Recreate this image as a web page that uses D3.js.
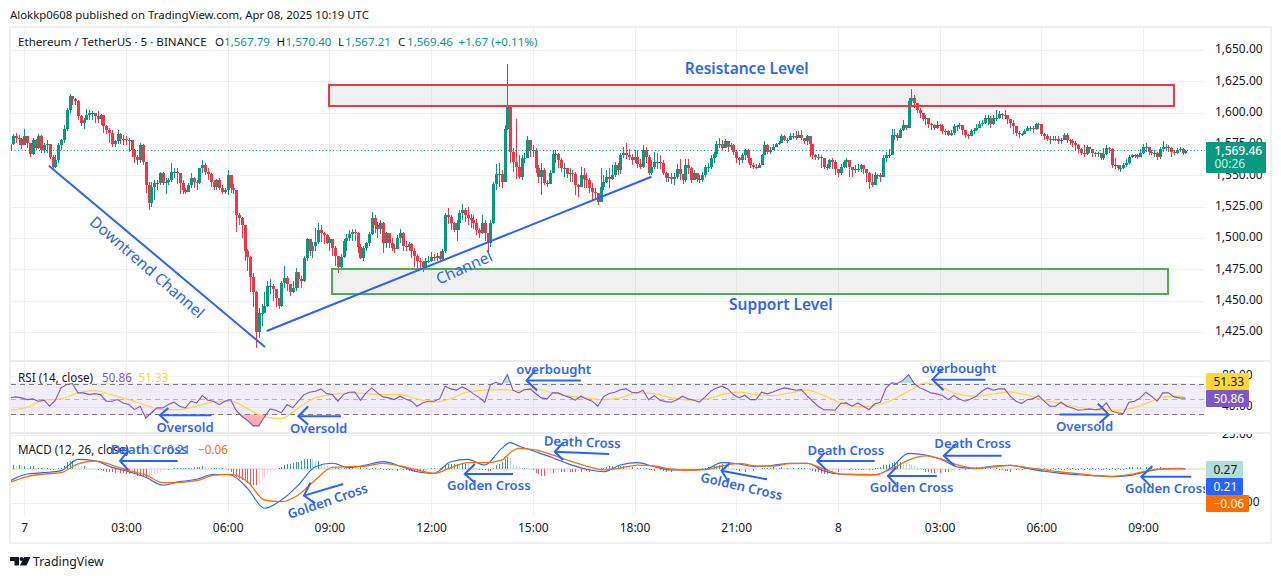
<!DOCTYPE html>
<html><head><meta charset="utf-8">
<script src="https://cdn.jsdelivr.net/npm/d3@7/dist/d3.min.js"></script>
<style>html,body{margin:0;padding:0;background:#fff}svg{display:block}text{font-family:"Noto Sans",sans-serif}</style>
</head><body><svg id="c" width="1281" height="579"></svg>
<script>
// Candles start 5 bars before midnight; opens are the preceding close.
const firstBar = -5;
const firstOpen = 1570;
const closes = [
1575,1581,1580,1579,1574,1581,1576,1567,1578,1572,
1581,1570,1574,1575,1565,1557,1562,1574,1578,1587,
1602,1613,1611,1609,1597,1592,1594,1598,1600,1600,
1597,1595,1598,1589,1586,1584,1575,1577,1583,1579,
1579,1578,1578,1570,1565,1562,1574,1561,1542,1528,
1541,1544,1544,1552,1544,1545,1546,1553,1553,1552,
1544,1538,1537,1542,1548,1545,1544,1556,1558,1553,
1551,1545,1541,1546,1540,1537,1538,1550,1540,1538,
1518,1516,1510,1490,1485,1469,1457,1425,1440,1440,
1446,1462,1462,1459,1452,1446,1464,1468,1463,1457,
1460,1473,1467,1466,1484,1499,1490,1494,1497,1506,
1504,1502,1496,1499,1492,1486,1477,1485,1498,1500,
1503,1505,1504,1493,1484,1492,1496,1503,1516,1510,
1507,1512,1496,1504,1496,1492,1491,1500,1504,1494,
1493,1495,1490,1486,1482,1481,1477,1482,1482,1485,
1484,1486,1483,1490,1518,1517,1512,1506,1512,1520,
1522,1518,1516,1514,1512,1506,1504,1512,1504,1496,
1512,1543,1551,1551,1545,1587,1605,1569,1561,1557,
1549,1564,1564,1578,1570,1570,1556,1549,1554,1544,
1543,1552,1567,1567,1562,1556,1556,1551,1552,1551,
1542,1541,1550,1547,1546,1540,1537,1536,1529,1541,
1545,1549,1547,1550,1558,1554,1566,1568,1566,1565,
1562,1565,1559,1557,1570,1565,1552,1557,1561,1561,
1560,1552,1548,1549,1547,1549,1555,1551,1546,1558,
1556,1546,1552,1547,1546,1550,1557,1557,1564,1567,
1575,1575,1572,1577,1573,1574,1569,1564,1562,1566,
1570,1564,1558,1557,1556,1558,1566,1574,1569,1570,
1573,1575,1576,1581,1578,1578,1581,1581,1580,1582,
1580,1577,1581,1575,1566,1565,1565,1564,1557,1557,
1562,1561,1555,1552,1557,1561,1562,1557,1554,1555,
1555,1558,1555,1552,1545,1542,1550,1550,1549,1564,
1566,1566,1582,1582,1580,1586,1590,1588,1609,1612,
1608,1602,1600,1595,1596,1591,1590,1588,1590,1589,
1585,1585,1582,1584,1589,1589,1590,1586,1582,1581,
1585,1586,1588,1591,1592,1596,1596,1591,1596,1596,
1599,1598,1598,1595,1592,1589,1584,1583,1583,1585,
1588,1588,1587,1591,1591,1583,1581,1579,1579,1579,
1579,1577,1578,1582,1578,1577,1576,1574,1571,1568,
1567,1573,1571,1568,1567,1568,1564,1567,1572,1571,
1558,1558,1556,1556,1558,1560,1565,1566,1566,1565,
1568,1573,1573,1569,1568,1568,1565,1571,1573,1573,
1572,1569,1568,1570,1571,1567.79,1569.46];
const highs = [
1577,1583,1584,1582,1580,1587,1581,1576,1580,1579,
1583,1582,1576,1578,1575,1566,1566,1576,1579,1590,
1604,1615,1613,1612,1610,1598,1596,1603,1602,1601,
1599,1601,1599,1598,1590,1588,1586,1578,1586,1584,
1582,1581,1580,1578,1571,1566,1576,1575,1560,1545,
1545,1546,1546,1553,1553,1548,1548,1560,1556,1556,
1550,1546,1540,1544,1552,1549,1546,1556,1562,1560,
1556,1552,1546,1547,1548,1542,1540,1554,1550,1543,
1538,1520,1517,1510,1491,1486,1472,1458,1444,1447,
1457,1466,1467,1463,1456,1448,1466,1478,1470,1462,
1466,1476,1472,1470,1486,1500,1499,1497,1508,1512,
1510,1505,1503,1501,1499,1494,1485,1487,1499,1503,
1506,1507,1507,1505,1495,1494,1497,1505,1521,1518,
1513,1514,1513,1505,1504,1500,1495,1502,1507,1505,
1498,1497,1496,1492,1487,1484,1482,1484,1486,1489,
1487,1488,1490,1491,1520,1524,1518,1513,1514,1522,
1527,1524,1525,1519,1518,1515,1508,1518,1514,1500,
1514,1545,1559,1560,1554,1590,1639,1606,1572,1595,
1566,1566,1568,1581,1578,1574,1572,1558,1560,1556,
1546,1554,1570,1570,1568,1564,1560,1555,1556,1554,
1553,1543,1557,1556,1552,1548,1544,1540,1533,1556,
1550,1554,1556,1558,1561,1560,1568,1573,1576,1571,
1567,1570,1570,1563,1574,1573,1566,1562,1569,1568,
1566,1562,1553,1552,1552,1552,1559,1563,1551,1563,
1563,1557,1554,1552,1550,1553,1558,1560,1566,1569,
1577,1580,1578,1579,1575,1576,1575,1570,1565,1568,
1571,1571,1561,1560,1559,1560,1567,1577,1575,1573,
1575,1576,1577,1583,1582,1580,1584,1584,1585,1585,
1586,1580,1582,1581,1575,1567,1567,1566,1564,1559,
1563,1564,1562,1555,1559,1562,1564,1562,1557,1558,
1559,1559,1558,1554,1553,1551,1553,1551,1552,1566,
1569,1571,1587,1587,1584,1588,1594,1590,1612,1619,
1614,1608,1604,1600,1598,1593,1592,1591,1593,1591,
1591,1587,1586,1586,1591,1590,1592,1590,1585,1583,
1587,1588,1591,1593,1594,1598,1598,1597,1598,1602,
1601,1600,1602,1598,1595,1594,1587,1585,1584,1587,
1589,1589,1589,1592,1592,1591,1584,1583,1581,1581,
1581,1581,1580,1584,1584,1579,1579,1577,1575,1572,
1574,1574,1573,1571,1569,1569,1568,1572,1574,1573,
1572,1564,1558,1558,1560,1563,1566,1567,1567,1567,
1571,1575,1576,1573,1570,1570,1569,1573,1577,1575,
1574,1573,1570,1572,1573,1572,1570.4];
const lows = [
1565,1574,1576,1574,1571,1574,1572,1565,1566,1570,
1571,1568,1568,1568,1563,1555,1556,1560,1570,1576,
1585,1600,1606,1606,1594,1589,1587,1594,1594,1594,
1592,1592,1590,1584,1583,1576,1573,1573,1575,1575,
1574,1574,1569,1565,1560,1558,1560,1558,1536,1522,
1525,1530,1538,1542,1542,1535,1542,1545,1548,1543,
1535,1535,1535,1537,1540,1540,1538,1543,1552,1550,
1546,1541,1538,1538,1538,1535,1535,1534,1536,1535,
1505,1510,1500,1482,1474,1457,1445,1412,1420,1430,
1443,1445,1455,1450,1445,1443,1445,1460,1458,1454,
1456,1458,1460,1460,1465,1482,1486,1484,1490,1495,
1497,1495,1495,1490,1486,1478,1472,1475,1484,1490,
1498,1498,1498,1488,1483,1482,1490,1494,1502,1504,
1500,1503,1488,1492,1492,1490,1488,1492,1496,1490,
1490,1490,1484,1477,1475,1476,1473,1476,1480,1481,
1482,1482,1481,1482,1488,1511,1506,1505,1498,1506,
1514,1513,1510,1508,1507,1502,1500,1503,1498,1489,
1493,1511,1538,1541,1540,1545,1586,1560,1553,1547,
1547,1546,1560,1564,1565,1565,1552,1544,1534,1542,
1541,1543,1552,1560,1556,1553,1549,1548,1545,1545,
1534,1533,1542,1540,1540,1536,1530,1532,1526,1533,
1538,1544,1540,1546,1549,1550,1551,1564,1563,1562,
1558,1560,1556,1555,1556,1560,1550,1550,1555,1555,
1555,1550,1545,1545,1543,1542,1547,1546,1543,1545,
1551,1544,1546,1545,1544,1545,1549,1553,1555,1560,
1565,1572,1570,1572,1569,1570,1566,1560,1558,1560,
1562,1560,1556,1555,1555,1556,1558,1566,1567,1567,
1570,1573,1574,1576,1577,1576,1578,1579,1578,1580,
1578,1575,1574,1565,1563,1562,1562,1556,1555,1554,
1555,1555,1550,1549,1550,1556,1556,1549,1549,1552,
1553,1553,1551,1545,1539,1541,1542,1547,1545,1549,
1561,1564,1566,1578,1577,1580,1585,1586,1588,1605,
1604,1600,1596,1593,1590,1588,1586,1586,1587,1585,
1583,1582,1581,1581,1582,1585,1587,1582,1580,1579,
1581,1583,1585,1588,1589,1591,1590,1588,1590,1593,
1595,1595,1595,1591,1588,1583,1581,1580,1581,1583,
1585,1585,1584,1586,1587,1581,1578,1577,1575,1577,
1577,1575,1575,1578,1576,1574,1573,1570,1568,1566,
1565,1566,1568,1565,1565,1565,1562,1562,1566,1568,
1556,1555,1554,1553,1555,1557,1559,1564,1564,1563,
1565,1567,1569,1566,1566,1565,1562,1563,1569,1570,
1569,1565,1566,1567,1569,1566,1567.21];
// RSI readings, one for every second bar from firstBar
const rsiValues = [
51.3,52.6,51.3,49.1,50,47,48.3,40.5,48.3,64.3,
68.6,69.9,57.8,57.8,55.6,56.9,55.6,47,47,49.1,
44.8,42.6,36.1,40.5,25,32,38.3,38.3,42.6,45.7,
40.5,38.3,47,44.8,54.3,48.3,47,42.6,47,49.1,
35,27.5,22,15,15,26.4,37,35.3,31.8,42.6,
38.3,47,55.6,58.7,60,63,56.9,55.6,47,55.6,
58.7,59,48.3,57.8,64.3,57.8,52.6,51.3,49.1,53.5,
50,47,40.5,44.8,47,47,50,66.5,63,61.4,
65.6,62,56.5,52,45.7,68.6,71.6,68.6,81.6,61.3,
57.8,62,63,57,51.3,50,57.8,57.8,54.3,52,
48.3,53.5,50,47,40.5,52.6,57,58.7,62,63,
58.7,57.8,61.3,49,54.3,48.3,46.5,45.7,49,53.5,
50,48.3,45.7,52.6,60,64.3,66.5,63,55.6,51.3,
54.8,49,49,58.7,56.5,59,62,64.3,63,61.3,
62,54.3,47,40.5,36,36,35.3,44,44.8,40.5,
44.8,40.5,36,43.5,45.7,64,70.8,70,74,81.6,
70,64.3,61.3,57.8,56.5,54.3,49,54.3,50,47,
50,53.5,60,64.3,61.3,63,63,53.5,47,44,
49,50,54.3,47,40.5,40.5,45.7,40.5,38.3,35.3,
36,37,36,37,44.8,34,32,31,45.7,47,
51.3,58.7,53.5,47,57.8,57.8,52.6,51.3,50.86];
// RSI moving average, one reading for every sixth bar, closed by the last bar
const rsiMaValues = [
35.3,39.2,48.3,50,57.8,60.8,55.2,49.1,41.8,36.1,36.1,40.5,46.1,47,37.4,26.6,24.5,38.3,51.3,55.6,
57.8,56.9,55.6,55.6,50,45.7,50.4,59.1,61.3,62.1,60.4,63.4,57.8,53.5,51.3,49.1,51.3,57.8,56.9,51.3,
48.7,49.6,55.6,58.7,55.6,54.3,57.8,61.3,54.3,44.8,39.6,41.3,48.3,60,70.8,64.3,55.6,53.5,56.5,59.1,
54.8,48.3,43.9,39.2,36.1,34.8,37,43.9,52.2,53.5,51.33];
// MACD and signal readings at the bars listed in macdBars
const macdBars = [
-5,1,7,13,19,25,31,37,43,49,55,61,67,73,79,85,91,97,103,109,115,121,127,133,139,
145,151,157,163,169,172,175,181,187,193,199,205,211,217,223,229,235,241,247,253,259,265,271,277,283,289,295,
301,307,313,319,325,331,337,343,349,355,361,367,373,379,385,391,397,403,409,411];
const macdLine = [
-8.6,-3.7,-2.7,-1.2,7.1,6.1,1.2,-2,-6.1,-11.8,-9.3,-7.6,-3.9,-4.4,-14.2,-28.9,-22.8,-11.8,1.7,4.2,1,2.9,5.4,2.2,-2,
-3.2,5.4,7.1,2.9,15.2,19.4,16.9,12.7,8.3,3.4,-.2,-2,2.9,4.7,1.7,-.7,-.7,-.2,4.7,3.7,1.7,2.7,4.2,4.2,-1.5,-3.9,-4.4,
-4.4,1.2,11.5,10.3,6.6,1.2,.5,2.2,2.7,.5,-1.7,-3.2,-4.2,-5.1,-5.6,-4.9,-2,0,.5,.21];
const signalLine = [
-9.8,-5.6,-3.7,-2.7,3.7,5.9,2.9,-1.2,-4.4,-10,-9.8,-8.6,-4.7,-3.9,-9.3,-22.8,-24,-19.1,-8.1,1.2,1.7,2.2,4.2,2.2,-.7,
-3.2,1,4.7,4.7,6.6,12,15.2,14,10.3,5.9,2.2,-.7,.7,2.9,2.2,0,-1,-.5,2.2,4.2,2.2,2.2,3.9,4.2,0,-3.7,-3.9,
-4.2,0,6.6,9.6,7.1,2.7,.5,1.5,2.7,1,-.7,-2.2,-3.4,-4.7,-5.4,-4.2,-1.5,0,.2,-.06];
const histValues = [
2,3,2,3,2,2,1,2,2,1,
1,1,.5,1,-.5,-1,-.5,.5,1,2,
5,6,6,4,3,2,2,1.5,1,.5,
0,-.5,-1,-1.5,-2,-2,-2.5,-3,-2,-3,
-3,-4,-4,-3.5,-4,-5,-5,-5,-6,-5,
-4.5,-4,-3,-2,-1,-.5,-.5,0,.5,.5,
.5,.5,.5,1,1,1.5,1.5,1.5,2,1.5,
1,1,1,1,.5,.5,0,-.5,-2,-4,
-6,-7,-8,-9,-10,-11,-12,-12,-11,-8,
-6,-4,-3,-1.5,-.5,.5,1.5,3,3.5,4,
4.5,5,5.5,6,7,7.5,7.5,7,6,6,
4,3,2,1.5,1,1,1,.5,.5,1,
1,1.5,1,.5,1.5,1,1,-.5,1,1,
.5,.5,-.5,-.5,-1,-1,-.5,-1.5,-1,-1,
-1,-1.5,-1.5,-2,-2.5,-3,-3,-2,-1,1,
1,.5,1,1.5,3,3.5,3.5,4,4,3.5,
3.5,4,3.5,2.5,1.5,.5,-.5,-1,-1,-1.5,
-1.5,1,3,4,5,7,9,8,3,2,
1.5,1,1,.5,0,-.5,-3,-4,-5,-5.5,
-4,-3,-3,-2.5,-2,-2,-2.5,-2,-2,-2,
-2,-1.5,-2,-1.5,-1.5,-2,-1.5,-1,-.5,1,
1,1.5,2,2,1.5,2,2,2.5,2,1.5,
1.5,1,1,1,.5,.5,-1,-1,-1.5,-1,
-1,-1.5,-2,-1.5,-2,-1.5,-1,-.5,-.5,-.5,
-.5,-.5,-.5,-.5,-.5,.5,1,1.5,1,2,
2,3,3.5,3,2,1,.5,-1,-1.5,-1,
-2,-1.5,-1,-1.5,-1,-.5,.5,1,1,1,
1.5,1,1,1.5,1,1,.5,1,.5,.5,
.5,.5,0,-.5,-1.5,-2,-2,-3,-3.5,-4,
-3.5,-3,-2,-2.5,-2,-1.5,-1,-1,-.5,-.5,
-.5,-.5,-1,-.5,-.5,-.5,.5,1,1.5,3,
3,4,4.5,5,5,5.5,5,4.5,4,3,
2,1.5,1,-.5,-2,-2.5,-3,-3,-2.5,-3,
-2,-2,-2.5,-2,-1.5,-1,-1,-.5,-.5,.5,
1,1,1.5,1,1,1.5,1,1,.5,.5,
-.5,-1,-1.5,-1.5,-2,-1,-1,-.5,-.5,.5,
.5,-.5,.5,-.5,.5,-.5,.5,-.5,-.5,.5,
-.5,.5,-.5,-.5,.5,-.5,.5,-.5,-.5,.5,
-.5,.5,-.5,.5,-.5,.5,-.5,-.5,.5,-.5,
.5,-.5,.5,-.5,-.5,1,1.5,1.5,1,1.5,
1.5,1,1.5,1,1,.5,1,1.5,1,.5,
.5,.5,.5,.5,.3,.3,.27];
const priceTicks = [1650,1625,1600,1575,1550,1525,1500,1475,1450,1425];
const rsiTicks = [80,40];
const macdTicks = [25,-25];
const timeTickBars = [0,36,72,108,144,180,216,252,288,324,360,396];
const timeTickLabels = ["7","03:00","06:00","09:00","12:00","15:00","18:00","21:00","8","03:00","06:00","09:00"];
// Drawings: [bar, value] pairs in the units of their pane
const zones = [
 {bars:[107.8,406.8],prices:[1621.7,1604.9],color:"#f23645"},
 {bars:[108.9,404.7],prices:[1474.9,1455.3],color:"#4caf50"}];
const trendLines = [[[8.7,1557.7],[85.2,1413]],[[85.8,1425.8],[222,1548.9]]];
const priceNotes = [
 ["Downtrend Channel",43.6,1477.1,41,400,15.5],["Channel",155.6,1476.9,-24,400,15.5],
 ["Resistance Level",255.7,1635.6,0,600,15.5],["Support Level",267.8,1447.3,0,600,15.5]];
const rsiNotes = [
 ["Oversold",56.9,14],["Oversold",104.2,12.7],["overbought",187.4,89],["overbought",330.8,90.6],["Oversold",375.3,15.3]];
const macdNotes = [
 ["Death Cross",44.2,14.7,0],["Death Cross",197.5,20,2],["Death Cross",290.8,14.3,0],["Death Cross",335.7,19.1,0],
 ["Golden Cross",107.3,-23.3,-19],["Golden Cross",164.4,-11.8,0],["Golden Cross",253.9,-12.5,13],["Golden Cross",314.1,-13.5,0],["Golden Cross",404.4,-14,0]];
const rsiArrows = [
 [[66.3,28.7],[48,28.7],[51,38.3],[48,28.7],[51,18.8]],
 [[112.1,27.4],[97,27.4],[100.5,40.4],[97,27.4],[100.5,16.6]],
 [[197,73.8],[177.8,73.8],[181,88.1],[177.8,73.8],[181.5,60.8]],
 [[340.2,75],[321.4,75],[325,88.9],[321.4,75],[325.4,61.2]],
 [[366.5,29.6],[383.9,29.6],[380,43.9],[383.9,29.6],[380.6,18.8]]];
const macdArrows = [
 [[54.3,5.9],[33.9,5.9],[36.8,13.5],[33.9,5.9],[36.8,-.7]],
 [[112.9,-11],[99,-19.6],[101.3,-10.1],[99,-19.6],[102.9,-25.2]],
 [[173,-3.7],[155.9,-3.7],[159.5,3.7],[155.9,-3.7],[159.5,-10.1]],
 [[207,11],[187.8,12.7],[190.7,19.3],[187.8,12.7],[190.7,6.6]],
 [[262.9,-7.6],[246.8,-1.3],[249.7,4.2],[246.8,-1.3],[249.1,-8.6]],
 [[301,5.9],[280.7,5.9],[283.3,12],[280.7,5.9],[283.9,-.7]],
 [[323,-5.1],[305.7,-5.1],[308.7,1.25],[305.7,-5.1],[308.7,-11.8]],
 [[345.9,9.8],[325.5,9.8],[329.9,18.4],[325.5,9.8],[329.3,2.2]],
 [[413.1,-5.7],[395.4,-5.7],[399.3,2.2],[395.4,-5.7],[398.6,-12.5]]];

const GREEN="#089981",RED="#f23645",BLUE="#2962ff",NOTE="#2f66f6",GRID="#f2f2f2",FRAME="#f0f0f0",INK="#131722";
const svg=d3.select("#c");
const x=d3.scaleLinear([0,411],[24.3,1185.4]);
const y=d3.scaleLinear([1650,1425],[50,332]);
const yR=d3.scaleLinear([70,30],[383.5,414.3]);
const yM=d3.scaleLinear([25,-25],[435,503]);
const L=11,R=1205;
const defs=svg.append("defs");
defs.append("clipPath").attr("id","plot").append("rect").attr("x",L).attr("y",28).attr("width",R-L).attr("height",332);
defs.append("clipPath").attr("id","lower").append("rect").attr("x",L).attr("y",362).attr("width",R-L).attr("height",153);
defs.append("clipPath").attr("id","below30").append("rect").attr("x",L).attr("y",yR(30)).attr("width",R-L).attr("height",30);
defs.append("clipPath").attr("id","above70").append("rect").attr("x",L).attr("y",362).attr("width",R-L).attr("height",yR(70)-362);
defs.append("clipPath").attr("id","lowerNotes").append("rect").attr("x",L).attr("y",362).attr("width",R-L).attr("height",165);
const gr=(id,a,b)=>{const g=defs.append("linearGradient").attr("id",id).attr("x1",0).attr("y1",0).attr("x2",0).attr("y2",1);
 g.append("stop").attr("offset",0).attr("stop-color",a[0]).attr("stop-opacity",a[1]);
 g.append("stop").attr("offset",1).attr("stop-color",b[0]).attr("stop-opacity",b[1]);};
gr("os",[RED,.05],[RED,.45]);gr("ob",[GREEN,.35],[GREEN,.05]);

// frame and panes
svg.append("rect").attr("x",10).attr("y",27).attr("width",1261).attr("height",516).attr("fill","#fff").attr("stroke",FRAME).attr("stroke-width",2);
const grid=svg.append("g").attr("stroke",GRID).attr("stroke-width",1).attr("shape-rendering","crispEdges");
timeTickBars.forEach(b=>grid.append("line").attr("x1",Math.round(x(b))+.5).attr("x2",Math.round(x(b))+.5).attr("y1",28).attr("y2",515));
priceTicks.forEach(t=>grid.append("line").attr("x1",L).attr("x2",R).attr("y1",Math.round(y(t))+.5).attr("y2",Math.round(y(t))+.5));
rsiTicks.forEach(t=>grid.append("line").attr("x1",L).attr("x2",R).attr("y1",Math.round(yR(t))+.5).attr("y2",Math.round(yR(t))+.5));
macdTicks.forEach(t=>grid.append("line").attr("x1",L).attr("x2",R).attr("y1",Math.round(yM(t))+.5).attr("y2",Math.round(yM(t))+.5));
[361,433].forEach(v=>svg.append("line").attr("x1",10).attr("x2",1271).attr("y1",v).attr("y2",v).attr("stroke","#ececec").attr("stroke-width",2));

// axes
const styleAxis=g=>{g.select(".domain").remove();g.selectAll("line").remove();g.selectAll("text").attr("fill",INK).style("font-size","12px");};
const fmt=d3.format(",.2f");
svg.append("g").attr("transform","translate(1206,-1)").call(d3.axisRight(y).tickValues(priceTicks).tickFormat(fmt).tickSize(0).tickPadding(9)).call(styleAxis);
svg.append("g").attr("transform","translate(1206,-1)").call(d3.axisRight(yR).tickValues(rsiTicks).tickFormat(fmt).tickSize(0).tickPadding(16)).call(styleAxis);
defs.append("clipPath").attr("id","axM").append("rect").attr("x",1206).attr("y",434).attr("width",66).attr("height",80);
svg.append("g").attr("clip-path","url(#axM)").append("g").attr("transform","translate(1206,-1)").call(d3.axisRight(yM).tickValues(macdTicks).tickFormat(fmt).tickSize(0).tickPadding(16)).call(styleAxis);
svg.append("g").attr("transform","translate(0,516)").call(d3.axisBottom(x).tickValues(timeTickBars).tickFormat((d,i)=>timeTickLabels[i]).tickSize(0).tickPadding(7)).call(styleAxis);

// candles
const bars=closes.map((c,i)=>({b:firstBar+i,c,h:highs[i],l:lows[i],o:i?closes[i-1]:firstOpen}));
const plot=svg.append("g").attr("clip-path","url(#plot)");
plot.append("g").attr("shape-rendering","crispEdges").selectAll("g").data(bars).join("g").each(function(d){
 const col=d.c>=d.o?GREEN:RED,g=d3.select(this),cx=Math.round(x(d.b));
 g.append("line").attr("x1",cx+.5).attr("x2",cx+.5).attr("y1",y(d.h)).attr("y2",y(d.l)).attr("stroke",col);
 const t=y(Math.max(d.o,d.c)),bt=y(Math.min(d.o,d.c));
 g.append("rect").attr("x",cx-1).attr("width",3).attr("y",t).attr("height",Math.max(1,bt-t)).attr("fill",col);
});
// last price line
plot.append("line").attr("x1",L).attr("x2",R).attr("y1",150.5).attr("y2",150.5).attr("stroke",GREEN).attr("stroke-width",1).attr("stroke-dasharray","1 2.5");
// zones
plot.selectAll(".zone").data(zones).join("rect").attr("class","zone").attr("shape-rendering","crispEdges")
 .attr("x",d=>Math.round(x(d.bars[0]))).attr("width",d=>Math.round(x(d.bars[1])-x(d.bars[0])))
 .attr("y",d=>Math.round(y(d.prices[0]))).attr("height",d=>Math.round(y(d.prices[1])-y(d.prices[0])))
 .attr("fill","rgba(120,120,120,.115)").attr("stroke",d=>d.color).attr("stroke-width",2);
// trend lines
const ln=d3.line().x(d=>x(d[0])).y(d=>y(d[1]));
plot.selectAll(".tl").data(trendLines).join("path").attr("class","tl").attr("d",ln).attr("fill","none").attr("stroke",BLUE).attr("stroke-width",2);
const note=(g,t,px,py,rot,w,size)=>g.append("text").attr("text-anchor","middle").attr("dominant-baseline","central")
 .attr("transform",`translate(${px},${py}) rotate(${rot||0})`).attr("fill",NOTE).style("font-size",size+"px").style("font-weight",w).text(t);
priceNotes.forEach(n=>note(plot,n[0],x(n[1]),y(n[2]),n[3],n[4],n[5]));

// RSI pane
const lower=svg.append("g").attr("clip-path","url(#lower)");
lower.append("rect").attr("x",L).attr("width",R-L).attr("y",yR(70)).attr("height",yR(30)-yR(70)).attr("fill","#7e57c2").attr("fill-opacity",.1);
[[70,"#787b86","5 4"],[30,"#787b86","5 4"],[50,"#b2b5be","5 4"]].forEach(d=>lower.append("line").attr("x1",L).attr("x2",R).attr("y1",Math.round(yR(d[0]))+.5).attr("y2",Math.round(yR(d[0]))+.5).attr("stroke",d[1]).attr("stroke-dasharray",d[2]));
const rsiPts=rsiValues.map((v,i)=>[firstBar+2*i,v]);
lower.append("path").attr("clip-path","url(#below30)").attr("d",d3.area().x(d=>x(d[0])).y0(yR(30)).y1(d=>yR(d[1]))(rsiPts)).attr("fill","url(#os)");
lower.append("path").attr("clip-path","url(#above70)").attr("d",d3.area().x(d=>x(d[0])).y0(yR(70)).y1(d=>yR(d[1]))(rsiPts)).attr("fill","url(#ob)");
const rsiMaPts=rsiMaValues.map((v,i)=>[i<rsiMaValues.length-1?firstBar+6*i:411,v]);
const lr=d3.line().x(d=>x(d[0])).y(d=>yR(d[1]));
lower.append("path").attr("d",lr.curve(d3.curveMonotoneX)(rsiMaPts)).attr("fill","none").attr("stroke","#fdd835").attr("stroke-width",1.2);
lower.append("path").attr("d",lr.curve(d3.curveLinear)(rsiPts)).attr("fill","none").attr("stroke","#7e57c2").attr("stroke-width",1.1);

// MACD pane
lower.append("line").attr("x1",L).attr("x2",R).attr("y1",yM(0)).attr("y2",yM(0)).attr("stroke","#b2b5be").attr("stroke-opacity",.6);
lower.append("g").attr("shape-rendering","crispEdges").selectAll("rect").data(histValues).join("rect")
 .attr("x",(d,i)=>Math.round(x(firstBar+i))).attr("width",1)
 .attr("y",d=>d>=0?yM(d):yM(0)).attr("height",d=>Math.abs(yM(d)-yM(0)))
 .attr("fill",(d,i)=>{const p=i?histValues[i-1]:d;return d>=0?(d>=p?"#26a69a":"#b2dfdb"):(d<=p?"#ff5252":"#ffcdd2");});
const lm=d3.line().curve(d3.curveMonotoneX).x((d,i)=>x(macdBars[i])).y(d=>yM(d));
lower.append("path").attr("d",lm(macdLine)).attr("fill","none").attr("stroke",BLUE).attr("stroke-width",1.1);
lower.append("path").attr("d",lm(signalLine)).attr("fill","none").attr("stroke","#ff6d00").attr("stroke-width",1.3);

// legends
const txt=(px,py,t,fill,size,w)=>svg.append("text").attr("x",px).attr("y",py).attr("dominant-baseline","central").attr("fill",fill||INK).style("font-size",(size||12)+"px").style("font-weight",w||400).text(t);
txt(10,14.5,"Alokkp0608 published on TradingView.com, Apr 08, 2025 10:19 UTC","#131722",11.4);
txt(18,41.5,"Ethereum / TetherUS · 5 · BINANCE",INK,11.6);
[[215,"O"],[276.5,"H"],[338,"L"],[398,"C"]].forEach(d=>txt(d[0],41.5,d[1],INK,11.6));
[[224,"1,567.79"],[285.5,"1,570.40"],[345,"1,567.21"],[407,"1,569.46"],[458.5,"+1.67 (+0.11%)"]].forEach(d=>txt(d[0],41.5,d[1],GREEN,11.6));
txt(18,377,"RSI (14, close)",INK,11.7);txt(102,377,"50.86","#7e57c2",11.7);txt(138.5,377,"51.33","#fdd835",11.7);
txt(18,449,"MACD (12, 26, close)",INK,11.7);txt(137,449,"0.27","#b2dfdb",11.7);txt(167,449,"0.21",BLUE,11.7);txt(198,449,"\u22120.06","#ff6d00",11.7);

// notes and arrows over the lower panes
const lowerTop=svg.append("g").attr("clip-path","url(#lowerNotes)");
rsiNotes.forEach(n=>note(lowerTop,n[0],x(n[1]),yR(n[2]),0,600,13.1));
macdNotes.forEach(n=>note(lowerTop,n[0],x(n[1]),yM(n[2]),n[3],600,13.1));
const arrow=(arr,ys)=>{const l=d3.line().x(d=>x(d[0])).y(d=>ys(d[1]));arr.forEach(a=>{
 lowerTop.append("path").attr("d",l(a.slice(0,2))).attr("fill","none").attr("stroke",BLUE).attr("stroke-width",2);
 lowerTop.append("path").attr("d",l(a.slice(2))).attr("fill","none").attr("stroke",BLUE).attr("stroke-width",2);});};
arrow(rsiArrows,yR);arrow(macdArrows,yM);

// price labels
const badge=(bx,by,bw,bh,fill)=>svg.append("rect").attr("x",bx).attr("y",by).attr("width",bw).attr("height",bh).attr("fill",fill).attr("rx",1);
badge(1206,142,60,31,GREEN);
txt(1214.5,150.5,"1,569.46","#fff",12,500);
txt(1214.5,163.5,"00:26","#cfeee8",12);
badge(1206,373,43,17,"#fdd835");txt(1213.5,381.5,"51.33",INK,12);
badge(1206,390,43,17,"#7e57c2");txt(1213.5,398.5,"50.86","#fff",12);
badge(1206,461,37,17,"#b2dfdb");txt(1213.5,469.5,"0.27",INK,12);
badge(1206,478,37,17,BLUE);txt(1213.5,486.5,"0.21","#fff",12);
badge(1206,495,43,17,"#ff6d00");txt(1213.5,503.5,"\u22120.06","#fff",12);

// footer mark
svg.append("path").attr("d","M10 557h9v8.5h-4.5v-4.5h-4.5zM24 557h6.5l-4 8.5h-6.5z").attr("fill","#131722");
svg.append("circle").attr("cx",21.5).attr("cy",559).attr("r",2).attr("fill","#131722");
txt(33,561,"TradingView","#131722",12.3);
</script></body></html>
